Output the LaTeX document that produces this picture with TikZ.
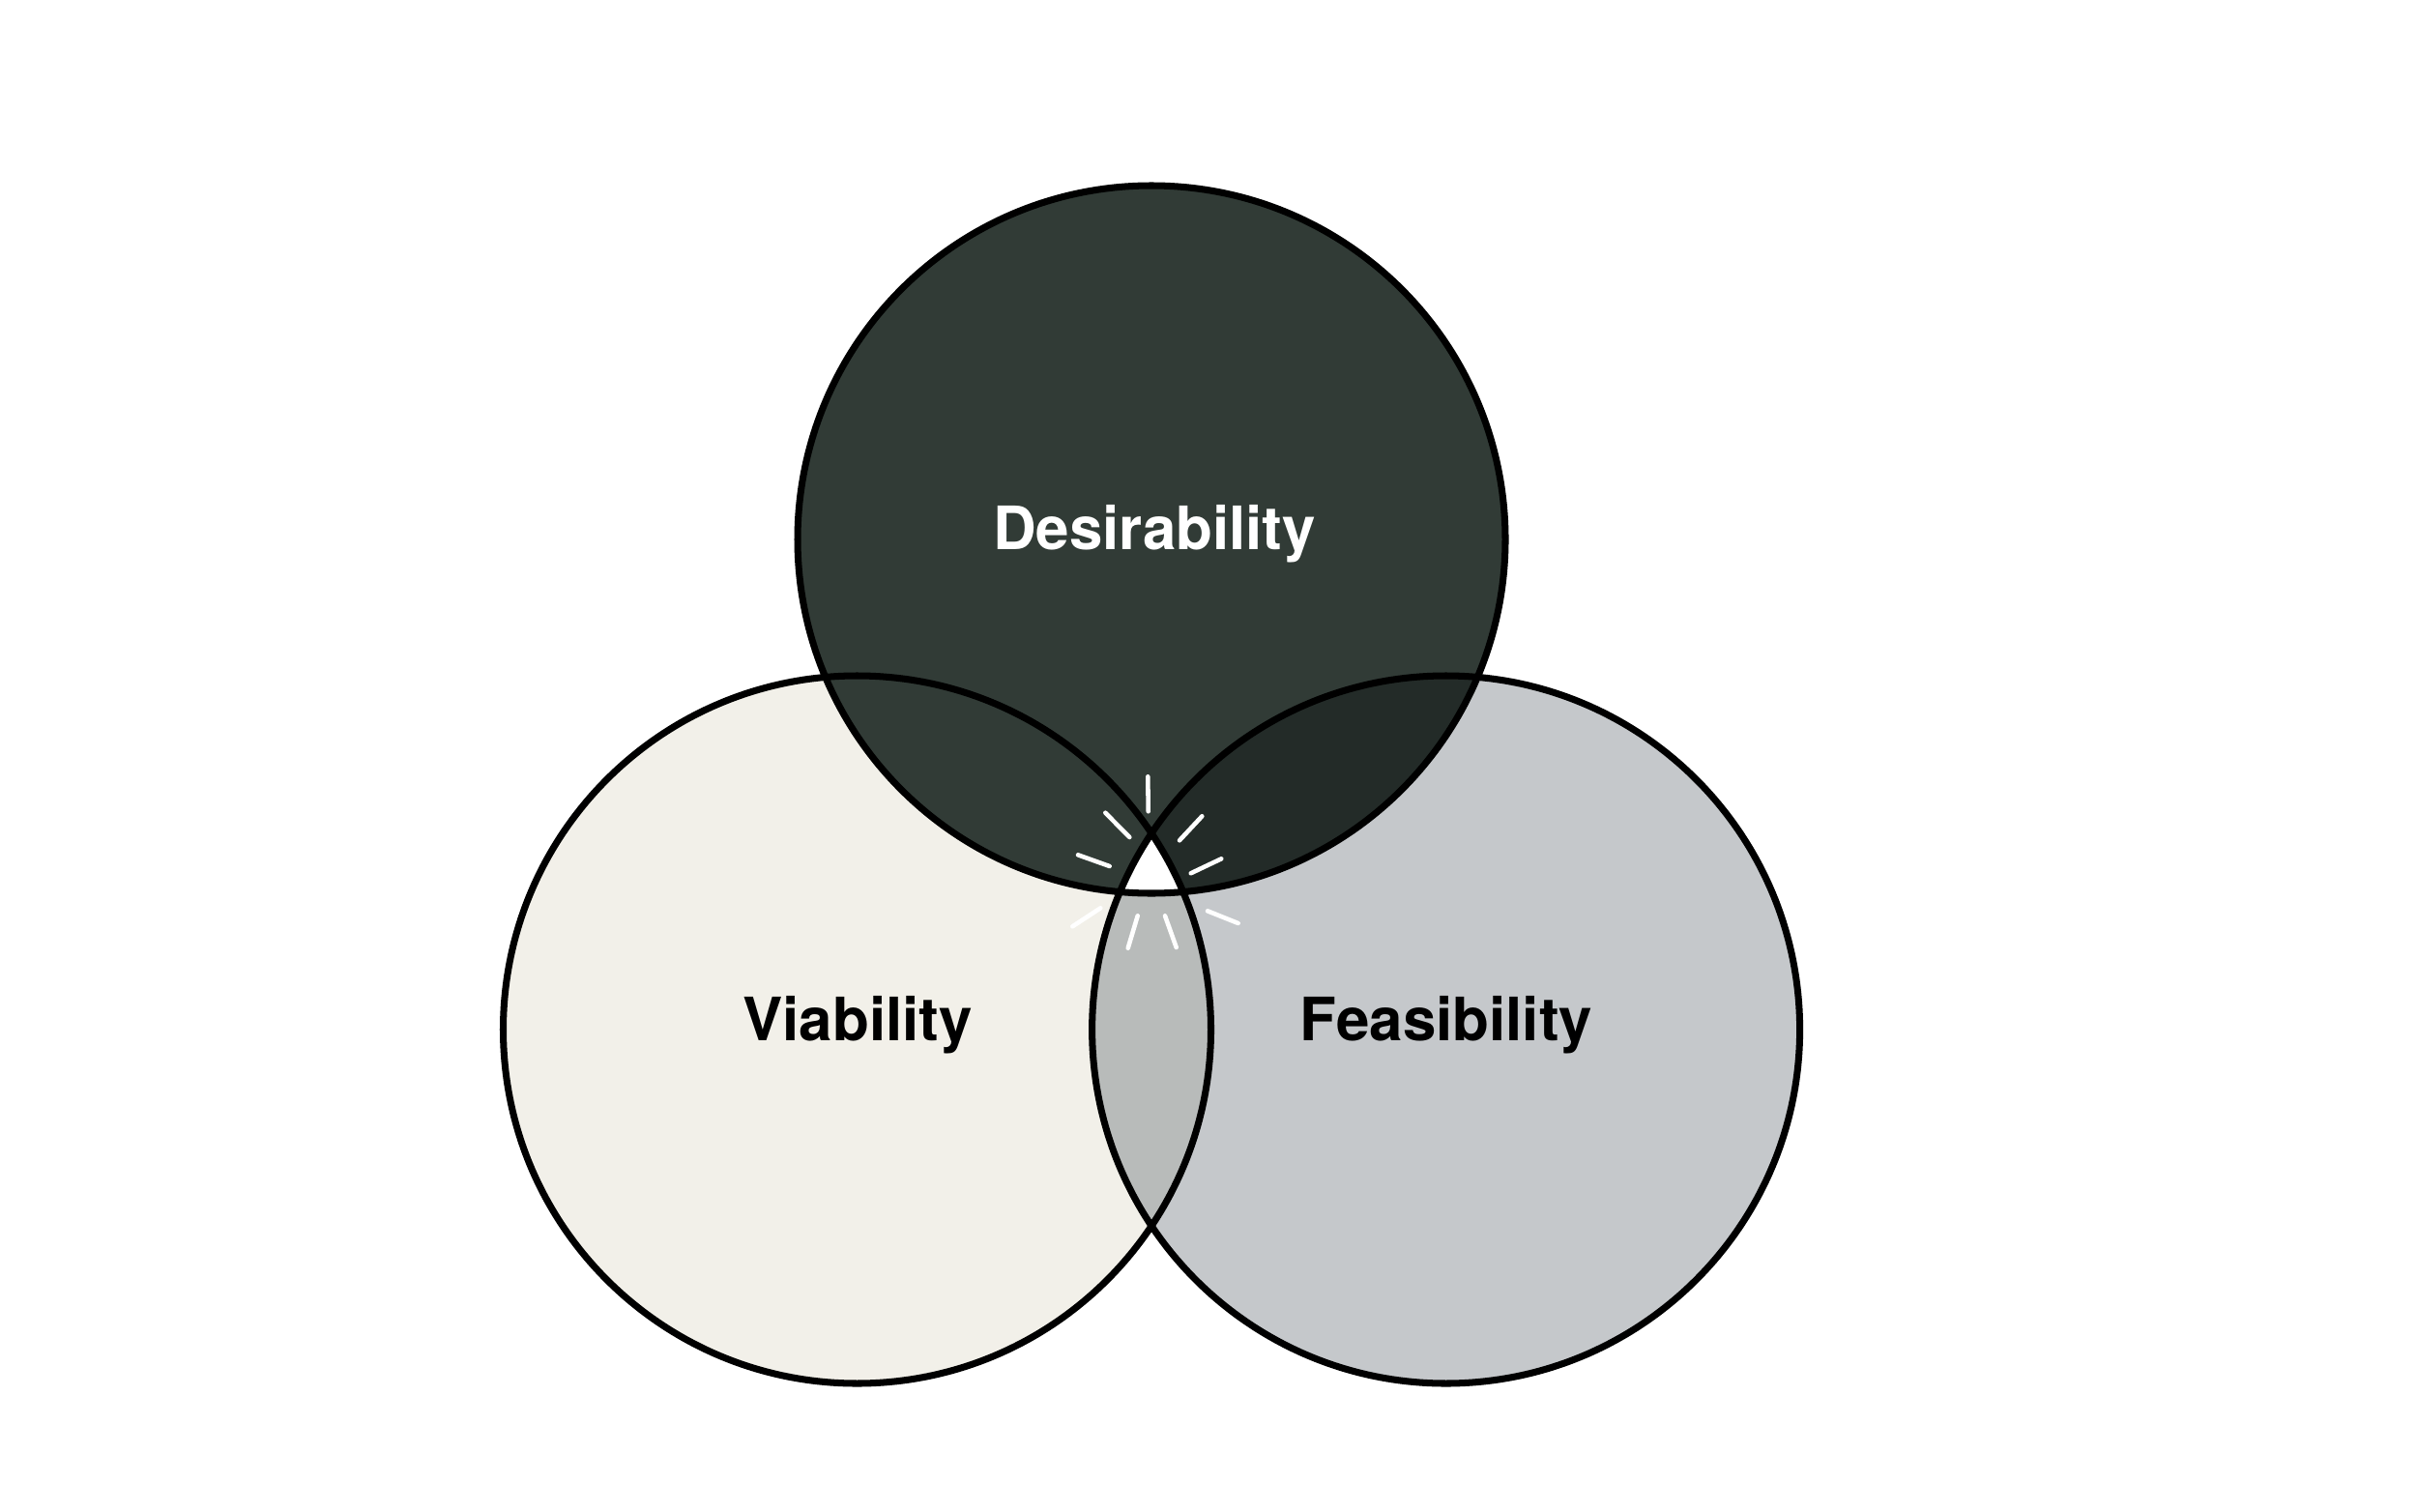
\documentclass[tikz,border=0pt]{standalone}
\usepackage{fontspec}
\setmainfont{TeX Gyre Heros}
\definecolor{desire}{HTML}{313B36}
\definecolor{desfeas}{HTML}{232B28}
\definecolor{viab}{HTML}{F2F0E9}
\definecolor{feas}{HTML}{C5C8CB}
\definecolor{lens}{HTML}{B8BBBA}
\def\topc{(11.91,10.05) circle (3.66)}
\def\leftc{(8.865,4.98) circle (3.66)}
\def\rightc{(14.956,4.98) circle (3.66)}
\begin{document}
\begin{tikzpicture}[line width=2pt,
  label/.style={font=\bfseries\fontsize{17.6}{20}\selectfont, anchor=base},
  ray/.style={white, line width=1.3pt, line cap=round}]
\useasboundingbox (0,0) rectangle (25,15.63);
\fill[viab] \leftc;
\fill[feas] \rightc;
\fill[desire] \topc;
\begin{scope}
  \clip \leftc;
  \fill[lens] \rightc;
\end{scope}
\begin{scope}
  \clip \topc;
  \fill[desfeas] \rightc;
\end{scope}
\begin{scope}
  \clip \topc;
  \clip \leftc;
  \fill[white] \rightc;
\end{scope}
\draw \leftc;
\draw \rightc;
\draw \topc;
% sparkle round the centre
\foreach \a/\b/\c/\d in {11.873/7.597/11.877/7.237, 11.433/7.223/11.683/6.970,
  11.150/6.787/11.477/6.670, 12.433/7.187/12.200/6.937, 12.633/6.747/12.317/6.597,
  11.383/6.237/11.093/6.047, 11.767/6.157/11.667/5.823, 12.050/6.157/12.167/5.830,
  12.490/6.207/12.807/6.080}{
  \coordinate (s) at (\a,\b);
  \coordinate (e) at (\c,\d);
  \draw[ray] (s) -- (e);
}
\node[label, white] (desirability) at (11.94,9.95) {Desirability};
\node[label] (viability) at (8.87,4.87) {Viability};
\node[label] (feasibility) at (14.96,4.87) {Feasibility};
\end{tikzpicture}
\end{document}
